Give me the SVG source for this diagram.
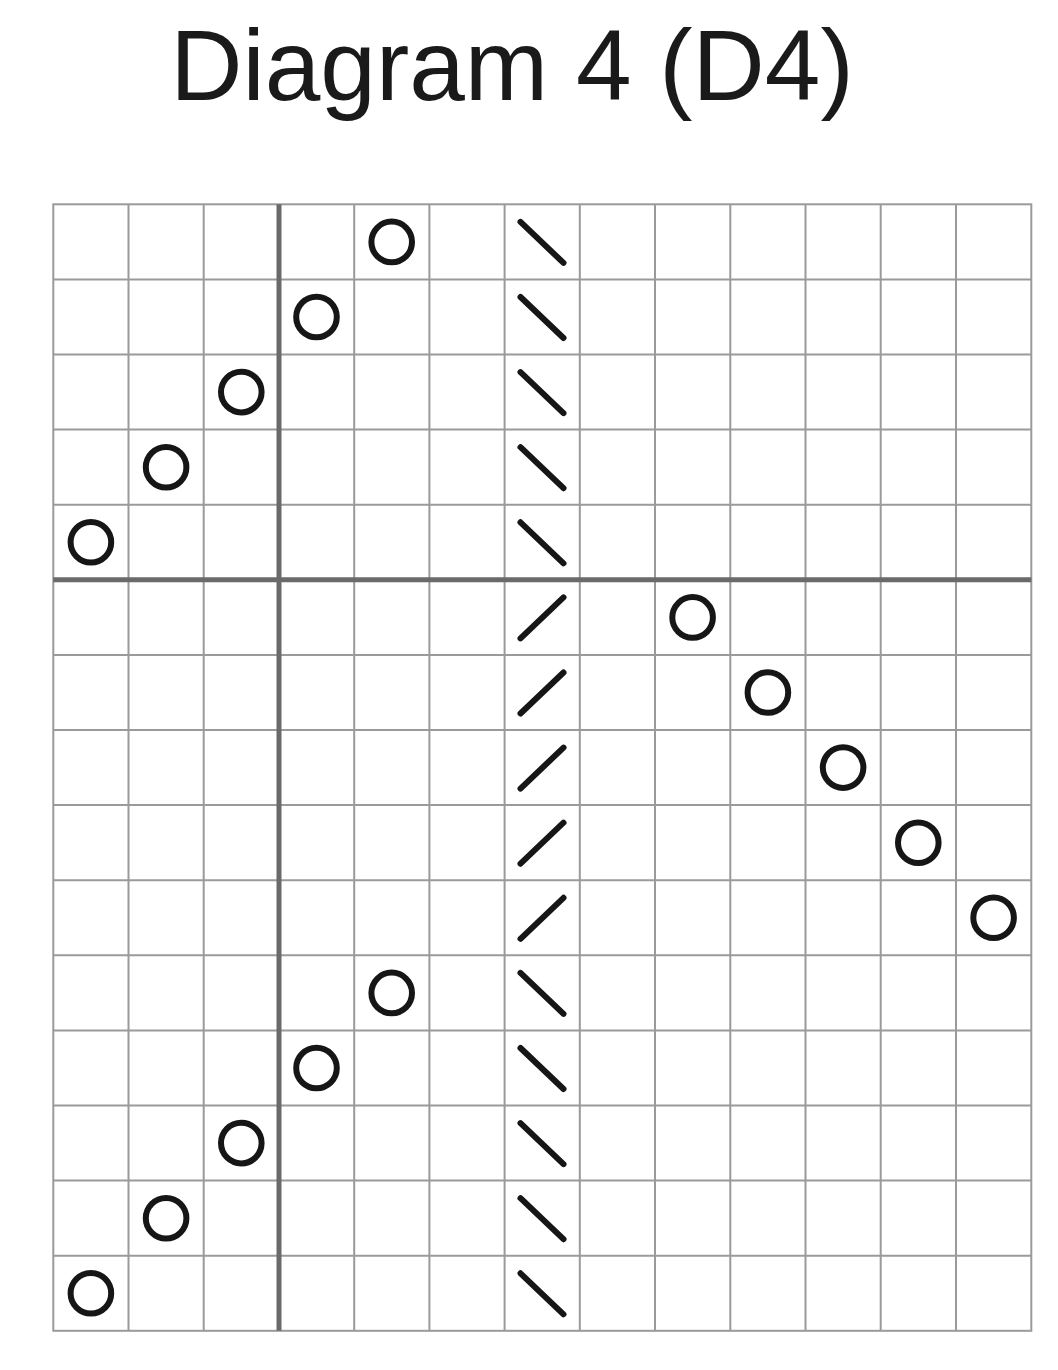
<svg xmlns="http://www.w3.org/2000/svg" width="1058" height="1370" viewBox="0 0 1058 1370">
<style>
.g{stroke:#9a9a9a;stroke-width:2;fill:none}
.t{stroke:#6a6a6a;stroke-width:5}
.c{fill:none;stroke:#161616;stroke-width:6}
.s{stroke:#161616;stroke-width:6;stroke-linecap:round}
text{font-family:"Liberation Sans",Arial,sans-serif;fill:#1a1a1a}
</style>
<defs>
<circle id="o" r="20.3" class="c"/>
<line id="bs" x1="-21.5" y1="-20.5" x2="21.5" y2="20.5" class="s"/>
<line id="fs" x1="-21.5" y1="20.5" x2="21.5" y2="-20.5" class="s"/>
</defs>
<rect width="1058" height="1370" fill="#fff"/>
<text x="512" y="100" font-size="100" text-anchor="middle">Diagram 4 (D4)</text>
<g id="grid">
<rect x="53.3" y="204.3" width="978" height="1126.5" class="g"/>
<path class="g" d="M128.5 204.3V1330.8M203.7 204.3V1330.8M354.2 204.3V1330.8M429.4 204.3V1330.8M504.6 204.3V1330.8M579.8 204.3V1330.8M655 204.3V1330.8M730.3 204.3V1330.8M805.5 204.3V1330.8M880.7 204.3V1330.8M956 204.3V1330.8"/>
<path class="g" d="M53.3 279.4H1031.3M53.3 354.5H1031.3M53.3 429.6H1031.3M53.3 504.7H1031.3M53.3 654.9H1031.3M53.3 730H1031.3M53.3 805.1H1031.3M53.3 880.2H1031.3M53.3 955.3H1031.3M53.3 1030.4H1031.3M53.3 1105.5H1031.3M53.3 1180.6H1031.3M53.3 1255.7H1031.3"/>
<line class="t" x1="279" y1="204.3" x2="279" y2="1330.8"/>
<line class="t" x1="53.3" y1="579.8" x2="1031.3" y2="579.8"/>
</g>
<g id="circles">
<use href="#o" x="391.7" y="241.9"/>
<use href="#o" x="316.5" y="317"/>
<use href="#o" x="241.3" y="392.1"/>
<use href="#o" x="166.1" y="467.2"/>
<use href="#o" x="90.9" y="542.3"/>
<use href="#o" x="692.6" y="617.4"/>
<use href="#o" x="767.9" y="692.5"/>
<use href="#o" x="843.1" y="767.6"/>
<use href="#o" x="918.3" y="842.7"/>
<use href="#o" x="993.6" y="917.8"/>
<use href="#o" x="391.7" y="992.9"/>
<use href="#o" x="316.5" y="1068"/>
<use href="#o" x="241.3" y="1143.1"/>
<use href="#o" x="166.1" y="1218.2"/>
<use href="#o" x="90.9" y="1293.3"/>
</g>
<g id="slashes">
<use href="#bs" x="542" y="242.4"/>
<use href="#bs" x="542" y="317.5"/>
<use href="#bs" x="542" y="392.6"/>
<use href="#bs" x="542" y="467.7"/>
<use href="#bs" x="542" y="542.8"/>
<use href="#fs" x="542" y="617.9"/>
<use href="#fs" x="542" y="693"/>
<use href="#fs" x="542" y="768.1"/>
<use href="#fs" x="542" y="843.2"/>
<use href="#fs" x="542" y="918.3"/>
<use href="#bs" x="542" y="993.4"/>
<use href="#bs" x="542" y="1068.5"/>
<use href="#bs" x="542" y="1143.6"/>
<use href="#bs" x="542" y="1218.7"/>
<use href="#bs" x="542" y="1293.8"/>
</g>
</svg>
